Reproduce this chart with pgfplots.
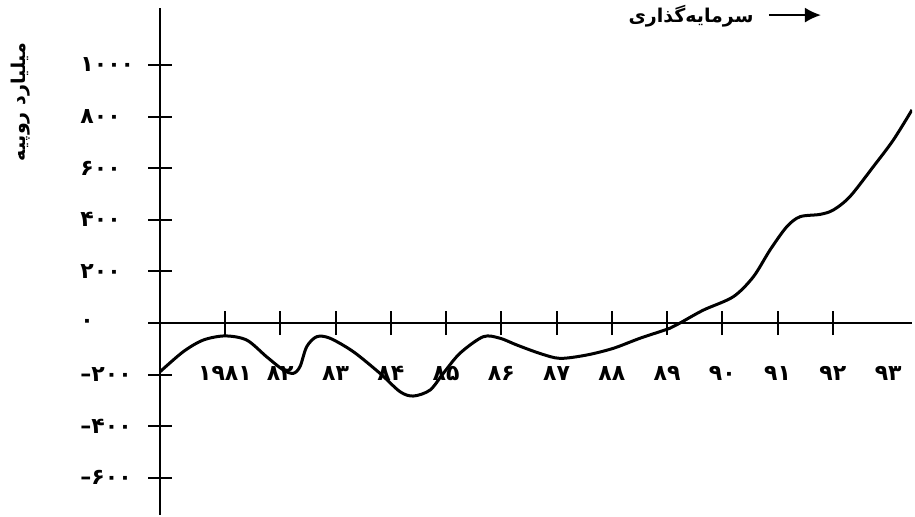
\documentclass[border=0pt]{standalone}
\usepackage{fontspec}
\setmainfont{DejaVu Sans}
\newfontfamily\arabicfont[Script=Arabic]{DejaVu Sans}
\newfontfamily\latinfont{DejaVu Sans}
\newcommand{\mn}{{\latinfont\bfseries –}}
\usepackage{pgfplots}
\pgfplotsset{compat=1.18}
\usetikzlibrary{arrows.meta}
\TeXXeTstate=1

\begin{document}
\begin{tikzpicture}
\useasboundingbox (0,0) rectangle (457.5pt,258.5pt);
\begin{axis}[
  at={(80pt,1pt)}, anchor=south west,
  scale only axis,
  width=376pt, height=253.5pt,
  xmin=1979.824, xmax=1993.43,
  ymin=-744, ymax=1221,
  axis x line=middle, axis y line=left,
  axis line style={line width=1.2pt, -},
  hide obscured x ticks=false, hide obscured y ticks=false,
  xtick={1981,...,1992},
  xticklabels={۱۹۸۱,۸۲,۸۳,۸۴,۸۵,۸۶,۸۷,۸۸,۸۹,۹۰,۹۱,۹۲},
  extra x ticks={1993},
  extra x tick labels={۹۳},
  extra x tick style={major tick length=0pt, xticklabel style={yshift=-6pt}},
  ytick={-600,-400,...,1000},
  yticklabels={\mn۶۰۰,\mn۴۰۰,\mn۲۰۰,۰,۲۰۰,۴۰۰,۶۰۰,۸۰۰,۱۰۰۰},
  tick align=center, major tick length=12pt,
  tick style={line width=1pt, black},
  xticklabel style={font=\arabicfont\bfseries\fontsize{11}{12}\selectfont,
    anchor=center, inner sep=0pt, yshift=-19pt},
  yticklabel style={font=\arabicfont\bfseries\fontsize{11}{12}\selectfont,
    anchor=west, inner sep=0pt, xshift=-34pt},
  every axis y label/.style={at={(rel axis cs:-0.1848,0.8146)},
    rotate=90, anchor=center, font=\arabicfont\bfseries\fontsize{9.5}{11}\selectfont},
  ylabel={\beginR میلیارد روپیه\endR},
  legend style={draw=none, fill=none, at={(0.749,0.986)}, anchor=center,
    font=\arabicfont\bfseries\fontsize{9.5}{11}\selectfont},
  legend plot pos=right,
  legend image code/.code={%
    \path (0pt,0pt);
    \draw[line width=1pt, -{Latex[length=8pt,width=7.5pt]}] (5pt,0pt) -- (31pt,0pt);},
]
\addplot[black, line width=1.5pt, smooth, tension=0.5] coordinates {
  (1979.824,-189) (1980.245,-111) (1980.607,-66) (1981.000,-50)
  (1981.393,-66) (1981.754,-131) (1982.055,-182) (1982.236,-195)
  (1982.357,-169) (1982.478,-92) (1982.659,-53) (1982.900,-59)
  (1983.321,-111) (1983.804,-195) (1984.166,-266) (1984.407,-283)
  (1984.709,-260) (1984.950,-195) (1985.252,-117) (1985.673,-53)
  (1985.976,-59) (1986.278,-85) (1986.700,-118) (1987.060,-137)
  (1987.544,-124) (1988.026,-98) (1988.509,-59) (1989.052,-20)
  (1989.233,0) (1989.654,50) (1990.197,102) (1990.559,179)
  (1990.861,283) (1991.163,373) (1991.404,412) (1991.765,421)
  (1992.006,438) (1992.307,490) (1992.730,606) (1993.091,709)
  (1993.430,826)
};
\addlegendentry{\beginR سرمایه‌گذاری\endR}
\end{axis}
\end{tikzpicture}
\end{document}
